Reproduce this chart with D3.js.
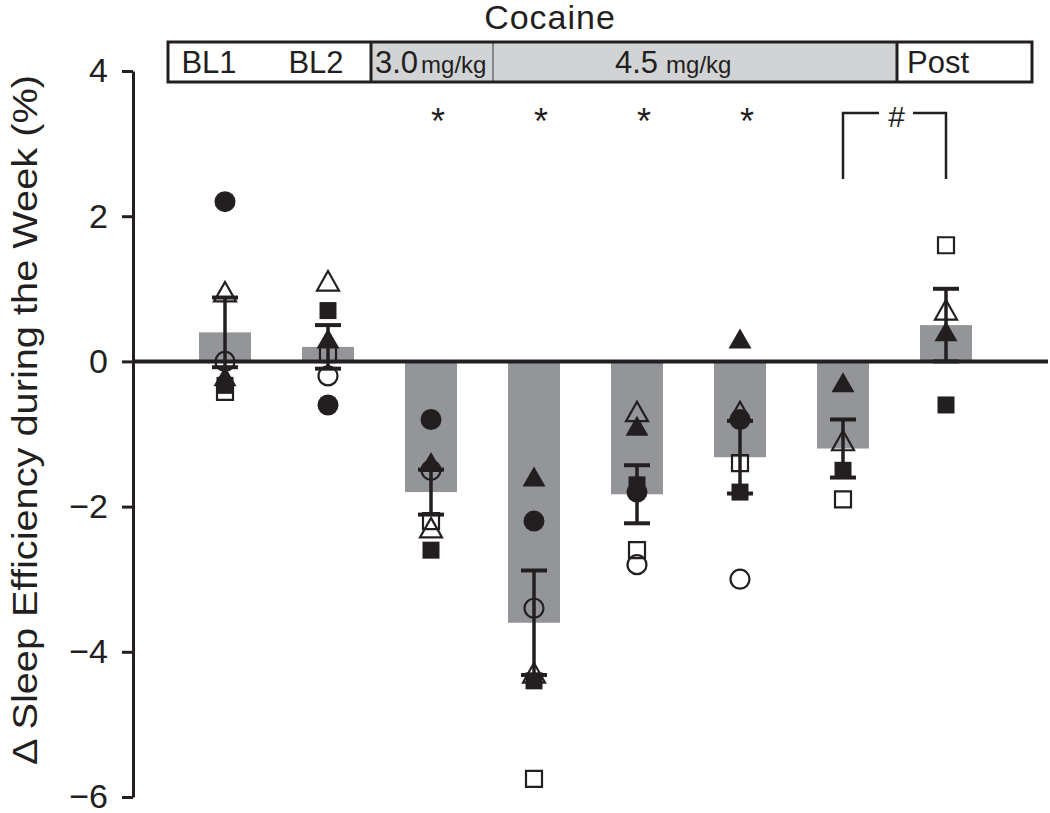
<!DOCTYPE html>
<html>
<head>
<meta charset="utf-8">
<script src="https://cdn.jsdelivr.net/npm/d3@7"></script>
<style>
  body { margin: 0; background: #fff; }
  text { font-family: "Liberation Sans", Arial, Helvetica, sans-serif; fill: #231f20; }
</style>
</head>
<body>
<div id="chart"></div>
<script>
// weeks along the x axis
const weeks = ["BL1", "BL2", "C3.0", "C4.5a", "C4.5b", "C4.5c", "C4.5d", "Post"];
// group means and SEM
const means = [0.4, 0.2, -1.8, -3.6, -1.83, -1.32, -1.2, 0.5];
const sems = [0.48, 0.3, 0.31, 0.72, 0.4, 0.5, 0.4, 0.5];
// individual subjects (null = not visible)
const filledCircle = [2.2, -0.6, -0.8, -2.2, -1.8, -0.8, null, null];
const openCircle = [0.0, -0.2, -1.5, -3.4, -2.8, -3.0, null, null];
const filledTriangle = [-0.22, 0.3, -1.4, -1.6, -0.9, 0.3, -0.3, 0.4];
const openTriangle = [0.95, 1.1, -2.3, -4.3, -0.7, -0.7, -1.1, 0.7];
const filledSquare = [-0.33, 0.7, -2.6, -4.4, -1.7, -1.8, -1.5, -0.6];
const openSquare = [-0.42, 0.1, -2.2, -5.75, -2.6, -1.4, -1.9, 1.6];
const yTicks = [-6, -4, -2, 0, 2, 4];
// asterisk weeks and bracket
const starWeeks = ["C3.0", "C4.5a", "C4.5b", "C4.5c"];
const bracketWeeks = ["C4.5d", "Post"];

const width = 1050, height = 813;
const svg = d3.select("#chart").append("svg").attr("width", width).attr("height", height);

const x = d3.scalePoint().domain(weeks).range([225, 946]);
const y = d3.scaleLinear().domain([-6, 4]).range([797, 71]);
const barW = 52;

// title + header boxes
svg.append("text").attr("x", 550).attr("y", 29).attr("text-anchor", "middle")
  .style("font-size", "34px").style("letter-spacing", "1px").text("Cocaine");

const headerTop = 42, headerH = 40;
const header = svg.append("g");
header.append("rect").attr("x", 371).attr("y", headerTop).attr("width", 122).attr("height", headerH).attr("fill", "#d1d3d4");
header.append("rect").attr("x", 493).attr("y", headerTop).attr("width", 404).attr("height", headerH).attr("fill", "#d1d3d4");
header.append("line").attr("x1", 493).attr("x2", 493).attr("y1", headerTop).attr("y2", headerTop + headerH)
  .attr("stroke", "#6d6e71").attr("stroke-width", 1.5);
header.append("rect").attr("x", 168).attr("y", headerTop).attr("width", 864).attr("height", headerH)
  .attr("fill", "none").attr("stroke", "#231f20").attr("stroke-width", 3);
[371, 897].forEach(px => header.append("line").attr("x1", px).attr("x2", px)
  .attr("y1", headerTop).attr("y2", headerTop + headerH).attr("stroke", "#231f20").attr("stroke-width", 3));

const hl = (px, txt, size, anchor) => header.append("text").attr("x", px).attr("y", 73)
  .attr("text-anchor", anchor || "start").style("font-size", size + "px").text(txt);
hl(209, "BL1", 31, "middle");
hl(316, "BL2", 31, "middle");
const t30 = header.append("text").attr("x", 375).attr("y", 73).style("font-size", "31px");
t30.append("tspan").text("3.0");
t30.append("tspan").attr("dx", 3).style("font-size", "24px").text("mg/kg");
const t45 = header.append("text").attr("x", 615).attr("y", 73).style("font-size", "31px");
t45.append("tspan").text("4.5");
t45.append("tspan").attr("dx", 8).style("font-size", "24px").text("mg/kg");
hl(907, "Post", 31);

// bars
svg.append("g").selectAll("rect").data(weeks).join("rect")
  .attr("x", d => x(d) - barW / 2)
  .attr("width", barW)
  .attr("y", (d, i) => y(Math.max(0, means[i])))
  .attr("height", (d, i) => Math.abs(y(means[i]) - y(0)))
  .attr("fill", "#939598");

// y axis
const yAxis = svg.append("g").attr("transform", "translate(133,0)")
  .call(d3.axisLeft(y).tickValues(yTicks).tickSize(11).tickSizeOuter(0).tickPadding(14));
yAxis.select(".domain").attr("stroke", "#231f20").attr("stroke-width", 3);
yAxis.selectAll(".tick line").attr("stroke", "#231f20").attr("stroke-width", 3);
yAxis.selectAll(".tick text").style("font-size", "34px").attr("fill", "#231f20")
  .style("font-family", "'Liberation Sans', Arial, sans-serif");

svg.append("text")
  .attr("transform", "translate(37,420) rotate(-90)")
  .attr("text-anchor", "middle").style("font-size", "35px")
  .attr("textLength", 690).attr("lengthAdjust", "spacingAndGlyphs")
  .text("\u0394 Sleep Efficiency during the Week (%)");

// zero line
svg.append("line").attr("x1", 133).attr("x2", 1048).attr("y1", y(0)).attr("y2", y(0))
  .attr("stroke", "#231f20").attr("stroke-width", 4);

// subject markers
function markerPath(kind) {
  if (kind === "circle") return "M10.5,0A10.5,10.5,0,1,1,-10.5,0A10.5,10.5,0,1,1,10.5,0Z";
  if (kind === "circleO") return "M9.5,0A9.5,9.5,0,1,1,-9.5,0A9.5,9.5,0,1,1,9.5,0Z";
  if (kind === "tri") return "M0,-11L11.5,9L-11.5,9Z";
  if (kind === "triO") return "M0,-10.5L11,9L-11,9Z";
  if (kind === "sq") return "M-8.5,-8.5H8.5V8.5H-8.5Z";
  return "M-8,-8H8V8H-8Z";
}
const subjects = [
  { vals: openSquare, kind: "sqO", filled: false },
  { vals: filledSquare, kind: "sq", filled: true },
  { vals: openCircle, kind: "circleO", filled: false },
  { vals: filledCircle, kind: "circle", filled: true },
  { vals: openTriangle, kind: "triO", filled: false },
  { vals: filledTriangle, kind: "tri", filled: true }
];
const pts = svg.append("g");
subjects.forEach(s => {
  pts.append("g").selectAll("path")
    .data(weeks.map((w, i) => ({ w, v: s.vals[i] })).filter(d => d.v !== null))
    .join("path")
    .attr("transform", d => `translate(${x(d.w)},${y(d.v)})`)
    .attr("d", markerPath(s.kind))
    .attr("fill", s.filled ? "#231f20" : "none")
    .attr("stroke", "#231f20")
    .attr("stroke-width", s.filled ? 0 : 2.2);
});

// error bars
const eb = svg.append("g").attr("stroke", "#231f20");
weeks.forEach((w, i) => {
  const cx = x(w), top = y(means[i] + sems[i]), bot = y(means[i] - sems[i]);
  eb.append("line").attr("x1", cx).attr("x2", cx).attr("y1", top).attr("y2", bot).attr("stroke-width", 3.5);
  [top, bot].forEach(yy => eb.append("line").attr("x1", cx - 13).attr("x2", cx + 13)
    .attr("y1", yy).attr("y2", yy).attr("stroke-width", 4));
});

// significance marks
svg.append("g").selectAll("text").data(starWeeks).join("text")
  .attr("x", d => x(d) + 7).attr("y", 134).attr("text-anchor", "middle")
  .style("font-size", "36px").text("*");

const bx1 = x(bracketWeeks[0]), bx2 = x(bracketWeeks[1]), by = 113;
svg.append("path")
  .attr("d", `M${bx1},179V${by}H${bx1 + 36}M${bx2 - 33},${by}H${bx2}V179`)
  .attr("fill", "none").attr("stroke", "#231f20").attr("stroke-width", 2.5);
svg.append("text").attr("x", (bx1 + bx2) / 2 + 2).attr("y", 127).attr("text-anchor", "middle")
  .style("font-size", "30px").text("#");
</script>
</body>
</html>
